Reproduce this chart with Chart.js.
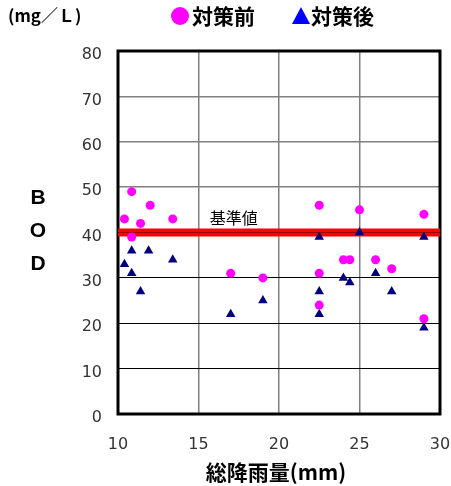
<!DOCTYPE html>
<html>
<head>
<meta charset="utf-8">
<script src="https://cdn.jsdelivr.net/npm/chart.js@4/dist/chart.umd.min.js"></script>
<style>
  html, body { margin: 0; padding: 0; background: #fff; }
  #wrap { width: 451px; height: 486px; }
</style>
</head>
<body>
<div id="wrap"><canvas id="chart-bod"></canvas></div>
<script>
// 対策前 (before)
const beforeRain = [10.85, 12, 10.4, 11.4, 13.4, 10.85, 17, 19, 22.5, 25, 29, 24, 24.4, 26, 27, 22.5, 22.5, 29];
const beforeBod  = [49, 46, 43, 42, 43, 39, 31, 30, 46, 45, 44, 34, 34, 34, 32, 31, 24, 21];

// 対策後 (after)
const afterRain = [10.85, 11.9, 13.4, 10.4, 10.85, 11.4, 17, 19, 22.5, 25, 29, 26, 24, 24.4, 22.5, 27, 22.5, 29];
const afterBod  = [36, 36, 34, 33, 31, 27, 22, 25, 39, 40, 39, 31, 30, 29, 27, 27, 22, 19];

const seriesLabels = ['対策前', '対策後'];
const standardValue = 40;
const standardLabel = '基準値';
const xTicks = [10, 15, 20, 25, 30];
const yTicks = [0, 10, 20, 30, 40, 50, 60, 70, 80];

const unitLabel = '(mg／Ｌ)';
const yTitle = ['B', 'O', 'D'];
const xTitle = '総降雨量(mm)';

const jpFont = "'Noto Sans CJK JP', sans-serif";

const toPoints = (xs, ys) => xs.map((x, i) => ({ x: x, y: ys[i] }));

// Frame, titles and legend drawn straight onto the canvas
const decorations = {
    id: 'decorations',
    beforeDatasetsDraw(chart) {
        const { ctx, chartArea: a } = chart;
        ctx.save();
        ctx.strokeStyle = '#000';
        ctx.lineWidth = 3;
        ctx.strokeRect(a.left, a.top, a.right - a.left, a.bottom - a.top);
        ctx.restore();
    },
    afterDraw(chart) {
        const { ctx, scales } = chart;
        ctx.save();
        ctx.fillStyle = '#000';
        ctx.textBaseline = 'middle';

        // unit
        ctx.font = "bold 17px " + jpFont;
        ctx.textAlign = 'left';
        ctx.fillText(unitLabel, 8, 16);

        // legend
        ctx.fillStyle = '#ff00ff';
        ctx.beginPath();
        ctx.arc(180, 16, 9, 0, Math.PI * 2);
        ctx.fill();
        ctx.fillStyle = '#0000ff';
        ctx.beginPath();
        ctx.moveTo(301, 7);
        ctx.lineTo(310, 24);
        ctx.lineTo(292, 24);
        ctx.closePath();
        ctx.fill();
        ctx.fillStyle = '#000';
        ctx.font = "bold 21px " + jpFont;
        ctx.fillText(seriesLabels[0], 192, 16);
        ctx.fillText(seriesLabels[1], 311, 16);

        // y title
        ctx.font = "bold 21px 'Liberation Sans', Arial, sans-serif";
        ctx.textAlign = 'center';
        yTitle.forEach((ch, i) => ctx.fillText(ch, 38, 198 + i * 33));

        // x title
        ctx.font = "bold 21px " + jpFont;
        ctx.fillText(xTitle, 276, 472);

        // standard label
        ctx.font = "16px " + jpFont;
        ctx.textAlign = 'left';
        ctx.fillText(standardLabel, scales.x.getPixelForValue(15.7), scales.y.getPixelForValue(standardValue) - 15);
        ctx.restore();
    }
};

const canvas = document.getElementById('chart-bod');

new Chart(canvas.getContext('2d'), {
    type: 'scatter',
    data: {
        datasets: [
            {
                label: seriesLabels[0],
                data: toPoints(beforeRain, beforeBod),
                pointStyle: 'circle',
                pointRadius: 4.5,
                pointBackgroundColor: '#ff00ff',
                pointBorderWidth: 0,
                order: 0
            },
            {
                label: seriesLabels[1],
                data: toPoints(afterRain, afterBod),
                pointStyle: 'triangle',
                pointRadius: 5.5,
                pointBackgroundColor: '#000080',
                pointBorderWidth: 0,
                order: 0
            },
            {
                label: standardLabel,
                type: 'line',
                data: [{ x: xTicks[0], y: standardValue }, { x: xTicks[xTicks.length - 1], y: standardValue }],
                borderColor: '#ff0000',
                borderWidth: 8,
                pointRadius: 0,
                order: 2
            },
            {
                label: standardLabel + ' core',
                type: 'line',
                data: [{ x: xTicks[0], y: standardValue }, { x: xTicks[xTicks.length - 1], y: standardValue }],
                borderColor: '#a00000',
                borderWidth: 1,
                pointRadius: 0,
                order: 1
            }
        ]
    },
    options: {
        responsive: true,
        maintainAspectRatio: false,
        animation: false,
        layout: { padding: { left: 0, top: 51, right: 11, bottom: 0 } },
        plugins: {
            legend: { display: false },
            tooltip: { enabled: false }
        },
        scales: {
            x: {
                type: 'linear',
                min: xTicks[0],
                max: xTicks[xTicks.length - 1],
                afterBuildTicks: s => { s.ticks = xTicks.map(v => ({ value: v })); },
                afterFit: s => { s.height = 72; s.paddingLeft = 0; s.paddingRight = 0; },
                border: { display: false },
                grid: {
                    drawTicks: false,
                    lineWidth: 1.5,
                    color: c => (c.tick.value === xTicks[0] || c.tick.value === xTicks[xTicks.length - 1]) ? 'rgba(0,0,0,0)' : '#808080'
                },
                ticks: {
                    padding: 21,
                    color: '#333',
                    font: { family: "'DejaVu Sans', sans-serif", size: 16 }
                }
            },
            y: {
                type: 'linear',
                min: yTicks[0],
                max: yTicks[yTicks.length - 1],
                afterBuildTicks: s => { s.ticks = yTicks.map(v => ({ value: v })); },
                afterFit: s => { s.width = 118; s.paddingTop = 0; s.paddingBottom = 0; },
                border: { display: false },
                grid: {
                    drawTicks: false,
                    lineWidth: c => c.tick.value <= 30 ? 1 : 1.5,
                    color: c => {
                        const v = c.tick.value;
                        if (v === yTicks[0] || v === yTicks[yTicks.length - 1]) return 'rgba(0,0,0,0)';
                        return v <= 30 ? '#000' : '#808080';
                    }
                },
                ticks: {
                    padding: 16,
                    labelOffset: 4,
                    color: '#333',
                    font: { family: "'DejaVu Sans', sans-serif", size: 16 }
                }
            }
        }
    },
    plugins: [decorations]
});
</script>
</body>
</html>
